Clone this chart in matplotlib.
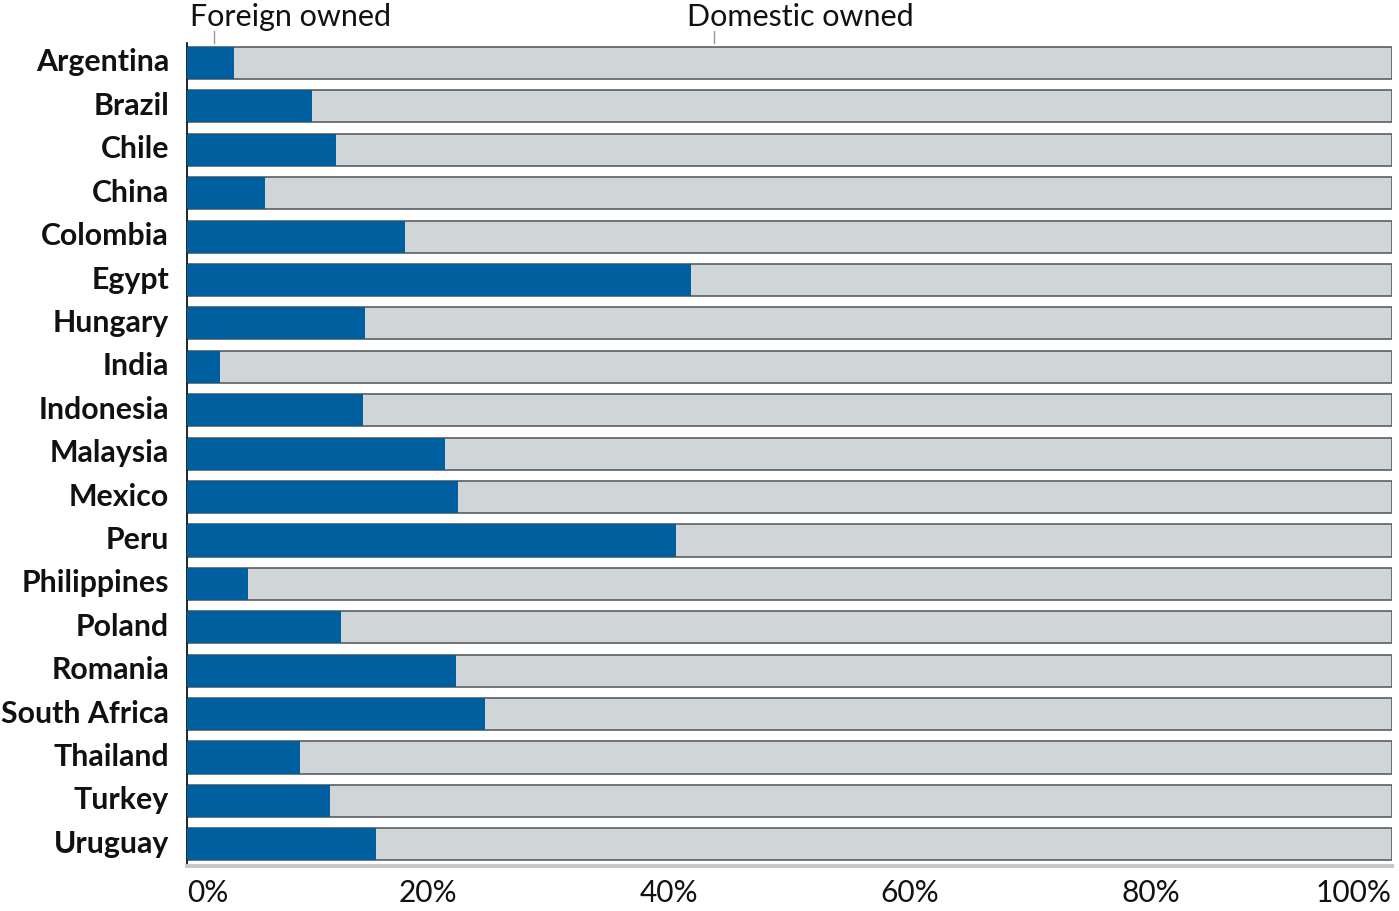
import matplotlib.pyplot as plt
from matplotlib.transforms import blended_transform_factory, ScaledTranslation

countries = ['Argentina', 'Brazil', 'Chile', 'China', 'Colombia', 'Egypt',
             'Hungary', 'India', 'Indonesia', 'Malaysia', 'Mexico', 'Peru',
             'Philippines', 'Poland', 'Romania', 'South Africa', 'Thailand',
             'Turkey', 'Uruguay']
foreign = [3.9, 10.4, 12.4, 6.5, 18.1, 41.8, 14.8, 2.7, 14.6, 21.4,
           22.5, 40.6, 5.1, 12.8, 22.3, 24.7, 9.4, 11.9, 15.7]
domestic = [100 - f for f in foreign]
xticks = [0, 20, 40, 60, 80, 100]
xtick_labels = ['0%', '20%', '40%', '60%', '80%', '100%']

blue = '#005f9e'
grey = '#d0d5d8'
edge = '#5a5f63'

plt.rcParams['font.family'] = ['Lato', 'DejaVu Sans']

fig = plt.figure(figsize=(13.99, 9.11), dpi=100)
ax = fig.add_axes([187 / 1399, 45 / 911, 1205 / 1399, 823 / 911])

pos = list(range(len(countries)))
totals = [f + d for f, d in zip(foreign, domestic)]
# grey full bar underneath, blue foreign share painted over it
ax.barh(pos, totals, height=0.74, color=grey, edgecolor=edge, linewidth=1.2, zorder=2)
ax.barh(pos, foreign, height=0.74, color=blue, edgecolor='none', zorder=3)

ax.set_xlim(0, 100)
ax.set_ylim(18.5, -0.46)
ax.set_yticks(pos)
ax.set_yticklabels(countries, fontsize=21.8, fontweight='bold', color='#111111')
ax.set_xticks(xticks)
ax.set_xticklabels(xtick_labels, fontsize=21.5, color='#111111')
ax.tick_params(axis='y', length=0, pad=13)
ax.tick_params(axis='x', length=0, pad=9)
labels = ax.get_xticklabels()
labels[0].set_horizontalalignment('left')
labels[-1].set_horizontalalignment('right')
# country names sit a touch above the bar centre
shift = ScaledTranslation(0, 0.03, fig.dpi_scale_trans)
for lab in ax.get_yticklabels():
    lab.set_transform(lab.get_transform() + shift)

for s in ['top', 'right']:
    ax.spines[s].set_visible(False)
ax.spines['left'].set_color('black')
ax.spines['left'].set_linewidth(1.2)
ax.spines['bottom'].set_color('#c4c8cb')
ax.spines['bottom'].set_linewidth(3)

trans = blended_transform_factory(ax.transData, ax.transAxes)
for xt, label, xl in [(2.2, 'Foreign owned', 0.25), (43.7, 'Domestic owned', 41.5)]:
    ax.plot([xt, xt], [1.0, 1.015], transform=trans, color='#999999', lw=1, clip_on=False)
    ax.text(xl, 1.021, label, transform=trans, fontsize=22, va='baseline', ha='left', color='#111111')

fig.savefig('out.png', dpi=100)
